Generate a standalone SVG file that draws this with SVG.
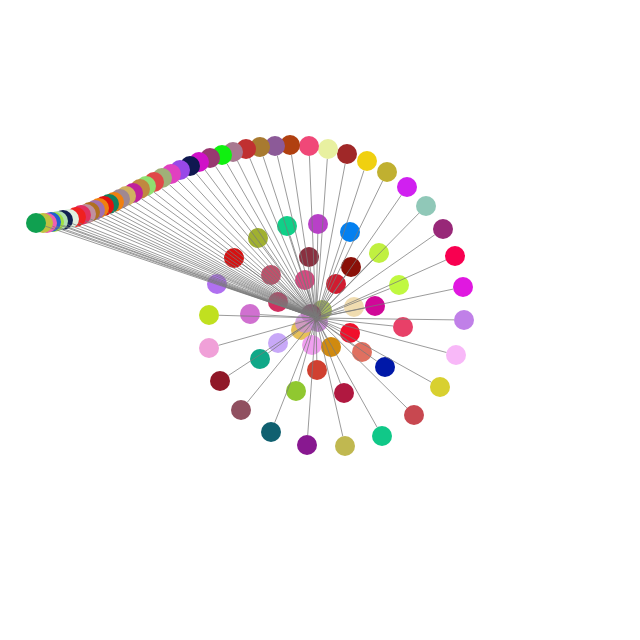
<svg xmlns="http://www.w3.org/2000/svg" width="640" height="640" viewBox="0 0 640 640">
<style>
.e{stroke:#7a7a7a;stroke-width:1;stroke-opacity:0.75;stroke-dasharray:0 10 2000;fill:none}
circle{stroke:none}
.in{fill-opacity:0.8}
</style>
<rect width="640" height="640" fill="#ffffff"/>
<g id="nodes">
<g id="n0"><circle class="in" cx="318" cy="322" r="10" fill="#b870c8"/></g>
<g id="n1"><circle class="in" cx="322" cy="310" r="10" fill="#90a838"/></g>
<g id="n2"><circle class="in" cx="311" cy="314" r="10" fill="#801850"/></g>
<g id="n3"><circle class="in" cx="301" cy="330" r="10" fill="#e0b030"/></g>
<g id="n4"><circle class="in" cx="305" cy="323" r="10" fill="#c890d8"/></g>
<g id="n5"><circle cx="312" cy="345" r="10" fill="#f0a0f0"/></g>
<g id="n6"><circle cx="331" cy="347" r="10" fill="#d08a10"/></g>
<g id="n7"><circle cx="350" cy="333" r="10" fill="#f0102c"/></g>
<g id="n8"><circle cx="354" cy="307" r="10" fill="#f0dcb0"/></g>
<g id="n9"><circle cx="336" cy="284" r="10" fill="#d01c30"/></g>
<g id="n10"><circle cx="305" cy="280" r="10" fill="#d84880"/></g>
<g id="n11"><circle cx="278" cy="302" r="10" fill="#d03060"/></g>
<g id="n12"><circle cx="278" cy="343" r="10" fill="#c8a8f8"/></g>
<g id="n13"><circle cx="317" cy="370" r="10" fill="#d04030"/></g>
<g id="n14"><circle cx="362" cy="352" r="10" fill="#e07060"/></g>
<g id="n15"><circle cx="375" cy="306" r="10" fill="#d00898"/></g>
<g id="n16"><circle cx="351" cy="267" r="10" fill="#8a1008"/></g>
<g id="n17"><circle cx="309" cy="257" r="10" fill="#8a3040"/></g>
<g id="n18"><circle cx="271" cy="275" r="10" fill="#c0506a"/></g>
<g id="n19"><circle cx="250" cy="314" r="10" fill="#d070d0"/></g>
<g id="n20"><circle cx="260" cy="359" r="10" fill="#10a888"/></g>
<g id="n21"><circle cx="296" cy="391" r="10" fill="#90c830"/></g>
<g id="n22"><circle cx="344" cy="393" r="10" fill="#b01840"/></g>
<g id="n23"><circle cx="385" cy="367" r="10" fill="#0018a8"/></g>
<g id="n24"><circle cx="403" cy="327" r="10" fill="#e84068"/></g>
<g id="n25"><circle cx="399" cy="285" r="10" fill="#c0f840"/></g>
<g id="n26"><circle cx="379" cy="253" r="10" fill="#c0f040"/></g>
<g id="n27"><circle cx="350" cy="232" r="10" fill="#0480f0"/></g>
<g id="n28"><circle cx="318" cy="224" r="10" fill="#b840c8"/></g>
<g id="n29"><circle cx="287" cy="226" r="10" fill="#10d088"/></g>
<g id="n30"><circle cx="258" cy="238" r="10" fill="#a0b030"/></g>
<g id="n31"><circle cx="234" cy="258" r="10" fill="#d81010"/></g>
<g id="n32"><circle cx="217" cy="284" r="10" fill="#b070f0"/></g>
<g id="n33"><circle cx="209" cy="315" r="10" fill="#c0e020"/></g>
<g id="n34"><circle cx="209" cy="348" r="10" fill="#f0a0d8"/></g>
<g id="n35"><circle cx="220" cy="381" r="10" fill="#901828"/></g>
<g id="n36"><circle cx="241" cy="410" r="10" fill="#905060"/></g>
<g id="n37"><circle cx="271" cy="432" r="10" fill="#106070"/></g>
<g id="n38"><circle cx="307" cy="445" r="10" fill="#881890"/></g>
<g id="n39"><circle cx="345" cy="446" r="10" fill="#c0b850"/></g>
<g id="n40"><circle cx="382" cy="436" r="10" fill="#10c888"/></g>
<g id="n41"><circle cx="414" cy="415" r="10" fill="#c84850"/></g>
<g id="n42"><circle cx="440" cy="387" r="10" fill="#d8d030"/></g>
<g id="n43"><circle cx="456" cy="355" r="10" fill="#f8b8f8"/></g>
<g id="n44"><circle cx="464" cy="320" r="10" fill="#c080e8"/></g>
<g id="n45"><circle cx="463" cy="287" r="10" fill="#e018e0"/></g>
<g id="n46"><circle cx="455" cy="256" r="10" fill="#f80050"/></g>
<g id="n47"><circle cx="443" cy="229" r="10" fill="#982878"/></g>
<g id="n48"><circle cx="426" cy="206" r="10" fill="#90c8b8"/></g>
<g id="n49"><circle cx="407" cy="187" r="10" fill="#d020f0"/></g>
<g id="n50"><circle cx="387" cy="172" r="10" fill="#c0b030"/></g>
<g id="n51"><circle cx="367" cy="161" r="10" fill="#f0d010"/></g>
<g id="n52"><circle cx="347" cy="154" r="10" fill="#a02828"/></g>
<g id="n53"><circle cx="328" cy="149" r="10" fill="#e8f0a0"/></g>
<g id="n54"><circle cx="309" cy="146" r="10" fill="#f04878"/></g>
<g id="n55"><circle cx="290" cy="145" r="10" fill="#b04010"/></g>
<g id="n56"><circle cx="275" cy="146" r="10" fill="#8c5a98"/></g>
<g id="n57"><circle cx="260" cy="147" r="10" fill="#a87a30"/></g>
<g id="n58"><circle cx="246" cy="149" r="10" fill="#c03030"/></g>
<g id="n59"><circle cx="233" cy="152" r="10" fill="#a87890"/></g>
<g id="n60"><circle cx="222" cy="155" r="10" fill="#10f010"/></g>
<g id="n61"><circle cx="210" cy="158" r="10" fill="#983870"/></g>
<g id="n62"><circle cx="199" cy="162" r="10" fill="#d010c8"/></g>
<g id="n63"><circle cx="190" cy="166" r="10" fill="#101850"/></g>
<g id="n64"><circle cx="180" cy="170" r="10" fill="#9848e8"/></g>
<g id="n65"><circle cx="171" cy="174" r="10" fill="#e040c0"/></g>
<g id="n66"><circle cx="162" cy="178" r="10" fill="#a0b078"/></g>
<g id="n67"><circle cx="154" cy="182" r="10" fill="#e04848"/></g>
<g id="n68"><circle cx="146" cy="186" r="10" fill="#90e070"/></g>
<g id="n69"><circle cx="140" cy="189" r="10" fill="#c08840"/></g>
<g id="n70"><circle cx="133" cy="193" r="10" fill="#c0209c"/></g>
<g id="n71"><circle cx="126" cy="196" r="10" fill="#d0b060"/></g>
<g id="n72"><circle cx="120" cy="199" r="10" fill="#a08890"/></g>
<g id="n73"><circle cx="114" cy="202" r="10" fill="#f08010"/></g>
<g id="n74"><circle cx="109" cy="204" r="10" fill="#108060"/></g>
<g id="n75"><circle cx="104" cy="206" r="10" fill="#e01010"/></g>
<g id="n76"><circle cx="99" cy="208" r="10" fill="#f08010"/></g>
<g id="n77"><circle cx="95" cy="210" r="10" fill="#a070b0"/></g>
<g id="n78"><circle cx="90" cy="212" r="10" fill="#b07020"/></g>
<g id="n79"><circle cx="86" cy="214" r="10" fill="#c090a0"/></g>
<g id="n80"><circle cx="81" cy="215" r="10" fill="#e03060"/></g>
<g id="n81"><circle cx="76" cy="217" r="10" fill="#f02020"/></g>
<g id="n82"><circle cx="69" cy="219" r="10" fill="#e0f0e0"/></g>
<g id="n83"><circle cx="63" cy="220" r="10" fill="#102050"/></g>
<g id="n84"><circle cx="58" cy="221" r="10" fill="#b0e0b0"/></g>
<g id="n85"><circle cx="54" cy="222" r="10" fill="#a0e040"/></g>
<g id="n86"><circle cx="51" cy="222" r="10" fill="#2060d0"/></g>
<g id="n87"><circle cx="47" cy="223" r="10" fill="#f060b0"/></g>
<g id="n88"><circle cx="43" cy="223" r="10" fill="#c0c040"/></g>
<g id="n89"><circle cx="36" cy="223" r="10" fill="#10a050"/></g>
</g>
<g id="connectors">
<line class="e" x1="312" y1="345" x2="316" y2="318"/>
<line class="e" x1="331" y1="347" x2="316" y2="318"/>
<line class="e" x1="350" y1="333" x2="316" y2="318"/>
<line class="e" x1="354" y1="307" x2="316" y2="318"/>
<line class="e" x1="336" y1="284" x2="316" y2="318"/>
<line class="e" x1="305" y1="280" x2="316" y2="318"/>
<line class="e" x1="278" y1="302" x2="316" y2="318"/>
<line class="e" x1="278" y1="343" x2="316" y2="318"/>
<line class="e" x1="317" y1="370" x2="316" y2="318"/>
<line class="e" x1="362" y1="352" x2="316" y2="318"/>
<line class="e" x1="375" y1="306" x2="316" y2="318"/>
<line class="e" x1="351" y1="267" x2="316" y2="318"/>
<line class="e" x1="309" y1="257" x2="316" y2="318"/>
<line class="e" x1="271" y1="275" x2="316" y2="318"/>
<line class="e" x1="250" y1="314" x2="316" y2="318"/>
<line class="e" x1="260" y1="359" x2="316" y2="318"/>
<line class="e" x1="296" y1="391" x2="316" y2="318"/>
<line class="e" x1="344" y1="393" x2="316" y2="318"/>
<line class="e" x1="385" y1="367" x2="316" y2="318"/>
<line class="e" x1="403" y1="327" x2="316" y2="318"/>
<line class="e" x1="399" y1="285" x2="316" y2="318"/>
<line class="e" x1="379" y1="253" x2="316" y2="318"/>
<line class="e" x1="350" y1="232" x2="316" y2="318"/>
<line class="e" x1="318" y1="224" x2="316" y2="318"/>
<line class="e" x1="287" y1="226" x2="316" y2="318"/>
<line class="e" x1="258" y1="238" x2="316" y2="318"/>
<line class="e" x1="234" y1="258" x2="316" y2="318"/>
<line class="e" x1="217" y1="284" x2="316" y2="318"/>
<line class="e" x1="209" y1="315" x2="316" y2="318"/>
<line class="e" x1="209" y1="348" x2="316" y2="318"/>
<line class="e" x1="220" y1="381" x2="316" y2="318"/>
<line class="e" x1="241" y1="410" x2="316" y2="318"/>
<line class="e" x1="271" y1="432" x2="316" y2="318"/>
<line class="e" x1="307" y1="445" x2="316" y2="318"/>
<line class="e" x1="345" y1="446" x2="316" y2="318"/>
<line class="e" x1="382" y1="436" x2="316" y2="318"/>
<line class="e" x1="414" y1="415" x2="316" y2="318"/>
<line class="e" x1="440" y1="387" x2="316" y2="318"/>
<line class="e" x1="456" y1="355" x2="316" y2="318"/>
<line class="e" x1="464" y1="320" x2="316" y2="318"/>
<line class="e" x1="463" y1="287" x2="316" y2="318"/>
<line class="e" x1="455" y1="256" x2="316" y2="318"/>
<line class="e" x1="443" y1="229" x2="316" y2="318"/>
<line class="e" x1="426" y1="206" x2="316" y2="318"/>
<line class="e" x1="407" y1="187" x2="316" y2="318"/>
<line class="e" x1="387" y1="172" x2="316" y2="318"/>
<line class="e" x1="367" y1="161" x2="316" y2="318"/>
<line class="e" x1="347" y1="154" x2="316" y2="318"/>
<line class="e" x1="328" y1="149" x2="316" y2="318"/>
<line class="e" x1="309" y1="146" x2="316" y2="318"/>
<line class="e" x1="290" y1="145" x2="316" y2="318"/>
<line class="e" x1="275" y1="146" x2="316" y2="318"/>
<line class="e" x1="260" y1="147" x2="316" y2="318"/>
<line class="e" x1="246" y1="149" x2="316" y2="318"/>
<line class="e" x1="233" y1="152" x2="316" y2="318"/>
<line class="e" x1="222" y1="155" x2="316" y2="318"/>
<line class="e" x1="210" y1="158" x2="316" y2="318"/>
<line class="e" x1="199" y1="162" x2="316" y2="318"/>
<line class="e" x1="190" y1="166" x2="316" y2="318"/>
<line class="e" x1="180" y1="170" x2="316" y2="318"/>
<line class="e" x1="171" y1="174" x2="316" y2="318"/>
<line class="e" x1="162" y1="178" x2="316" y2="318"/>
<line class="e" x1="154" y1="182" x2="316" y2="318"/>
<line class="e" x1="146" y1="186" x2="316" y2="318"/>
<line class="e" x1="140" y1="189" x2="316" y2="318"/>
<line class="e" x1="133" y1="193" x2="316" y2="318"/>
<line class="e" x1="126" y1="196" x2="316" y2="318"/>
<line class="e" x1="120" y1="199" x2="316" y2="318"/>
<line class="e" x1="114" y1="202" x2="316" y2="318"/>
<line class="e" x1="109" y1="204" x2="316" y2="318"/>
<line class="e" x1="104" y1="206" x2="316" y2="318"/>
<line class="e" x1="99" y1="208" x2="316" y2="318"/>
<line class="e" x1="95" y1="210" x2="316" y2="318"/>
<line class="e" x1="90" y1="212" x2="316" y2="318"/>
<line class="e" x1="86" y1="214" x2="316" y2="318"/>
<line class="e" x1="81" y1="215" x2="316" y2="318"/>
<line class="e" x1="76" y1="217" x2="316" y2="318"/>
<line class="e" x1="69" y1="219" x2="316" y2="318"/>
<line class="e" x1="63" y1="220" x2="316" y2="318"/>
<line class="e" x1="58" y1="221" x2="316" y2="318"/>
<line class="e" x1="54" y1="222" x2="316" y2="318"/>
<line class="e" x1="51" y1="222" x2="316" y2="318"/>
<line class="e" x1="47" y1="223" x2="316" y2="318"/>
<line class="e" x1="43" y1="223" x2="316" y2="318"/>
<line class="e" x1="36" y1="223" x2="316" y2="318"/>
</g>
</svg>
